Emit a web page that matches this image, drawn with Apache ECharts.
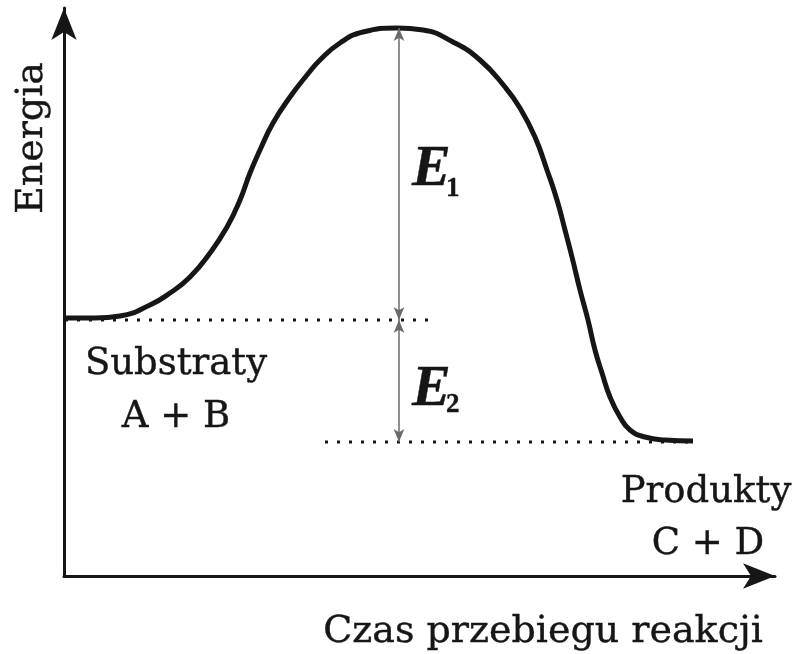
<!DOCTYPE html>
<html><head><meta charset="utf-8">
<script src="https://cdn.jsdelivr.net/npm/echarts@6/dist/echarts.min.js"></script>
<style>html,body{margin:0;padding:0;background:#fff}#c{width:800px;height:654px}</style>
</head><body><div id="c"></div>
<script>
// Reaction progress (arbitrary units) and energy (arbitrary units)
const progress = [2, 31, 56, 86, 106, 126, 146, 163, 176, 186, 196, 209, 226, 243, 256, 276, 299, 333, 359, 389, 416, 441, 456, 471, 483, 493, 501, 508, 516, 524, 531, 538, 546, 556, 566, 581, 601, 629];
const energy   = [258, 258, 260, 271, 283, 299, 323, 349, 376, 403, 426, 453, 479, 501, 516, 533, 544, 548, 546, 534, 516, 489, 468, 439, 406, 376, 346, 319, 286, 256, 226, 203, 179, 159, 146, 139, 136, 135];

const substrateEnergy = 256;
const productEnergy = 134;
const peakEnergy = 548;
const peakProgress = 335;
const substrateLevelSpan = [1, 371];
const productLevelSpan = [261, 626];

const xMax = 711;
const yMax = 568;

const labels = {
  yName: 'Energia',
  xName: 'Czas przebiegu reakcji',
  substrates: 'Substraty',
  substratesFormula: 'A + B',
  products: 'Produkty',
  productsFormula: 'C + D',
  e: 'E',
  e1: '1',
  e2: '2'
};

const chart = echarts.init(document.getElementById('c'), null, {renderer: 'canvas'});
const ink = '#161616';
const serif = '"DejaVu Serif", serif';

function axis(max) {
  return {
    type: 'value', min: 0, max: max,
    axisLine: {show: true, onZero: false, symbol: ['none', 'arrow'], symbolSize: [19, 32],
      lineStyle: {color: ink, width: 3}},
    axisTick: {show: false}, axisLabel: {show: false}, splitLine: {show: false}
  };
}

function txt(x, y, text, font, align, extra) {
  return Object.assign({type: 'text', x: x, y: y,
    style: {text: text, font: font, fill: ink, stroke: ink, lineWidth: 0.4, align: align || 'center', verticalAlign: 'middle'}}, extra || {});
}

const option = {
  animation: false,
  backgroundColor: '#ffffff',
  grid: {left: 64, right: 25, top: 8, bottom: 78, containLabel: false},
  xAxis: axis(xMax),
  yAxis: axis(yMax),
  series: [
    {
      type: 'line', name: 'levelSub', silent: true, showSymbol: false, symbol: 'none',
      data: [[substrateLevelSpan[0], substrateEnergy], [substrateLevelSpan[1], substrateEnergy]],
      lineStyle: {color: ink, width: 3, type: [3, 9]}, z: 2
    },
    {
      type: 'line', name: 'levelProd', silent: true, showSymbol: false, symbol: 'none',
      data: [[productLevelSpan[0], productEnergy], [productLevelSpan[1], productEnergy]],
      lineStyle: {color: ink, width: 3, type: [3, 9]}, z: 2
    },
    {
      type: 'line', name: 'curve', silent: true, showSymbol: false, symbol: 'none', smooth: 0.5,
      data: progress.map((p, i) => [p, energy[i]]),
      lineStyle: {color: ink, width: 5}, z: 3,
      markLine: {
        silent: true, animation: false,
        symbol: ['arrow', 'arrow'], symbolSize: [8, 13],
        label: {show: false},
        lineStyle: {color: '#6a6a6a', width: 1.5, type: 'solid'},
        data: [
          [{coord: [peakProgress, peakEnergy]}, {coord: [peakProgress, substrateEnergy]}],
          [{coord: [peakProgress, substrateEnergy]}, {coord: [peakProgress, productEnergy]}]
        ]
      }
    }
  ],
  graphic: [
    txt(32, 138, labels.yName, '38px ' + serif, 'center', {rotation: Math.PI / 2}),
    txt(543, 632, labels.xName, '38px ' + serif),
    txt(176, 364, labels.substrates, '37px ' + serif),
    txt(176, 417, labels.substratesFormula, '37px ' + serif),
    txt(706, 492, labels.products, '37px ' + serif),
    txt(708, 544, labels.productsFormula, '37px ' + serif),
    txt(412, 170, labels.e, 'italic bold 58px "Liberation Serif", serif', 'left'),
    txt(446, 189, labels.e1, 'bold 27px "Liberation Serif", serif', 'left'),
    txt(412, 390, labels.e, 'italic bold 58px "Liberation Serif", serif', 'left'),
    txt(446, 405, labels.e2, 'bold 27px "Liberation Serif", serif', 'left')
  ]
};
chart.setOption(option);
</script>
</body></html>
